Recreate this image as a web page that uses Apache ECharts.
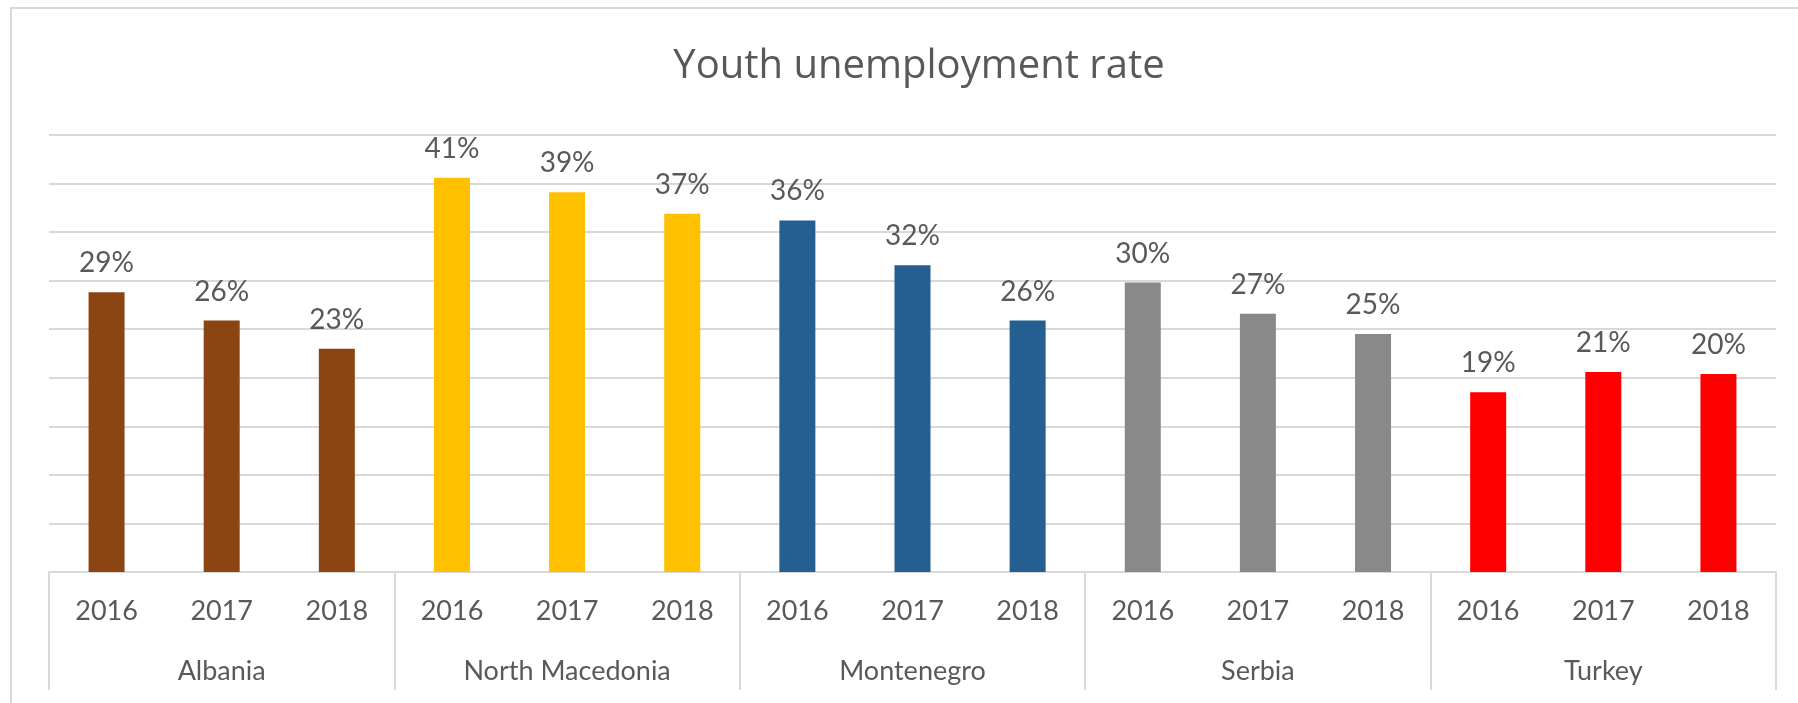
<!DOCTYPE html>
<html>
<head>
<meta charset="utf-8">
<script src="https://cdn.jsdelivr.net/npm/echarts@6/dist/echarts.min.js"></script>
<style>
html,body{margin:0;padding:0;background:#fff;}
#chart{width:1798px;height:703px;}
</style>
</head>
<body>
<div id="chart"></div>
<script>
const title = 'Youth unemployment rate';
const countries = ['Albania', 'North Macedonia', 'Montenegro', 'Serbia', 'Turkey'];
const years = ['2016', '2017', '2018'];
const albania = [28.8, 25.9, 23.0];
const northMacedonia = [40.6, 39.1, 36.9];
const montenegro = [36.2, 31.6, 25.9];
const serbia = [29.8, 26.6, 24.5];
const turkey = [18.5, 20.6, 20.4];
const countryColors = ['#8B4513', '#FFC000', '#255E91', '#898989', '#FF0000'];

const groups = [albania, northMacedonia, montenegro, serbia, turkey];
const yearCats = [];
const barData = [];
groups.forEach((vals, gi) => {
  vals.forEach((v, yi) => {
    yearCats.push(years[yi]);
    barData.push({ value: v, itemStyle: { color: countryColors[gi] } });
  });
});

const font = 'Lato, "Open Sans", sans-serif';
const textColor = '#595959';
const lineColor = '#d9d9d9';

const chart = echarts.init(document.getElementById('chart'));
chart.setOption({
  animation: false,
  title: {
    text: title,
    left: 914, top: 42, textAlign: 'center',
    textStyle: { fontFamily: '"Open Sans", Lato, sans-serif', fontSize: 40, fontWeight: 'normal', color: textColor }
  },
  graphic: [{
    type: 'rect', silent: true,
    shape: { x: 11, y: 8, width: 1900, height: 900 },
    style: { fill: 'none', stroke: lineColor, lineWidth: 2 }
  }],
  grid: { left: 49, right: 22, top: 135, bottom: 131, containLabel: false },
  xAxis: [{
    type: 'category', data: yearCats, position: 'bottom',
    axisLine: { show: true, lineStyle: { color: lineColor, width: 2 } },
    axisTick: { show: false },
    axisLabel: { interval: 0, margin: 26, fontFamily: font, fontSize: 27, color: textColor }
  }, {
    type: 'category', data: countries, position: 'bottom', offset: 0,
    axisLine: { show: false },
    axisTick: { show: true, length: 118, lineStyle: { color: lineColor, width: 2 } },
    axisLabel: { interval: 0, margin: 86, fontFamily: font, fontSize: 27, color: textColor }
  }],
  yAxis: {
    type: 'value', min: 0, max: 45, interval: 5,
    axisLabel: { show: false }, axisLine: { show: false }, axisTick: { show: false },
    splitLine: { lineStyle: { color: lineColor, width: 2 } }
  },
  series: [{
    type: 'bar', xAxisIndex: 0, barWidth: 36, data: barData,
    label: {
      show: true, position: 'top', distance: 15,
      fontFamily: font, fontSize: 28, color: textColor,
      formatter: p => Math.round(p.value) + '%'
    }
  }]
});
</script>
</body>
</html>
